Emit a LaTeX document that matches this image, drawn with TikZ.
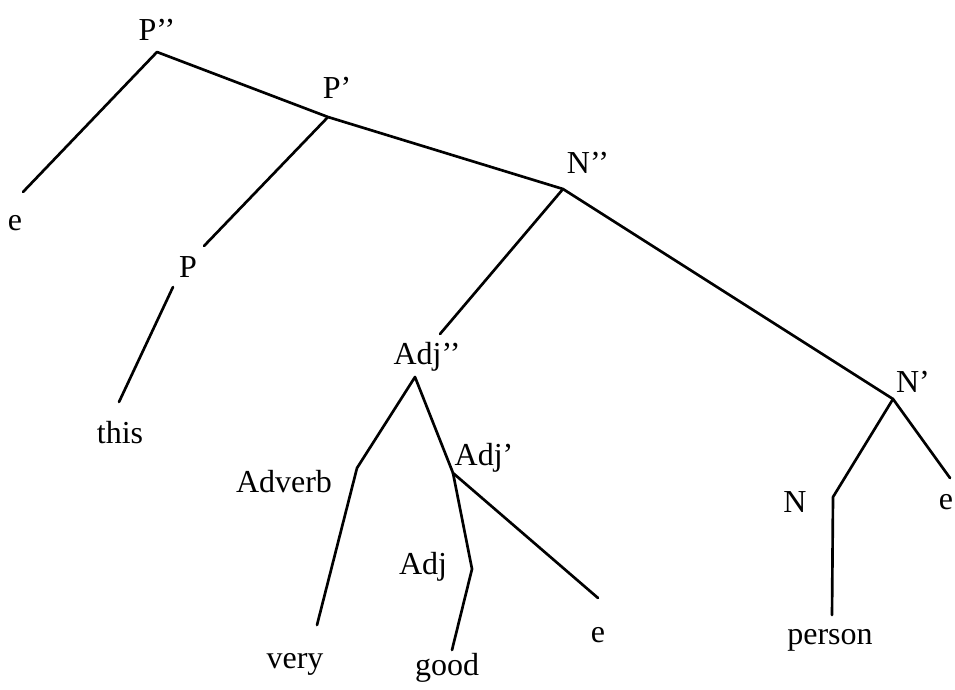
\documentclass[tikz,border=0pt]{standalone}
\usepackage{fontspec}
\setmainfont{Liberation Serif}

\begin{document}
\begin{tikzpicture}[
  x=0.75pt, y=-0.75pt,
  lab/.style={inner sep=0pt, font=\fontsize{24pt}{28pt}\selectfont},
  branch/.style={line width=2pt, line cap=round, line join=round}
]
\useasboundingbox (0,0) rectangle (955,689);

\coordinate (pdd) at (157,52);
\coordinate (pd) at (328,117);
\coordinate (ndd) at (563,189);
\coordinate (nd) at (893,399);
\coordinate (ea) at (23,192);
\coordinate (pend) at (204,246);
\coordinate (ptop) at (173,287);
\coordinate (thisend) at (119,402);
\coordinate (adjddtop) at (440,334);
\coordinate (adjdd) at (415,377);
\coordinate (advbend) at (357,468);
\coordinate (veryend) at (317,625);
\coordinate (adjd) at (453,473);
\coordinate (adjbend) at (472,569);
\coordinate (goodend) at (452,650);
\coordinate (eb) at (598,598);
\coordinate (nbend) at (833,497);
\coordinate (personend) at (832,615);
\coordinate (ec) at (950,478);

\node[lab] (pddlab) at (157,30) {P’’};
\node[lab] (ealab) at (15,223) {e};
\node[lab] (pdlab) at (337,88) {P’};
\node[lab] (plab) at (188,267) {P};
\node[lab] (thislab) at (120,433) {this};
\node[lab] (nddlab) at (588,163) {N’’};
\node[lab] (adjddlab) at (427,357) {Adj’’};
\node[lab] (advlab) at (284,482) {Adverb};
\node[lab] (verylab) at (295,664) {very};
\node[lab] (adjdlab) at (484,458) {Adj’};
\node[lab] (adjlab) at (423,567) {Adj};
\node[lab] (goodlab) at (447,668) {good};
\node[lab] (eblab) at (598,635) {e};
\node[lab] (ndlab) at (913,382) {N’};
\node[lab] (nlab) at (795,502) {N};
\node[lab] (personlab) at (830,640) {person};
\node[lab] (eclab) at (946,502) {e};

\draw[branch] (ea) -- (pdd) -- (pd) -- (ndd) -- (nd) -- (ec);
\draw[branch] (pd) -- (pend);
\draw[branch] (ptop) -- (thisend);
\draw[branch] (ndd) -- (adjddtop);
\draw[branch] (veryend) -- (advbend) -- (adjdd) -- (adjd) -- (eb);
\draw[branch] (adjd) -- (adjbend) -- (goodend);
\draw[branch] (nd) -- (nbend) -- (personend);
\end{tikzpicture}
\end{document}
